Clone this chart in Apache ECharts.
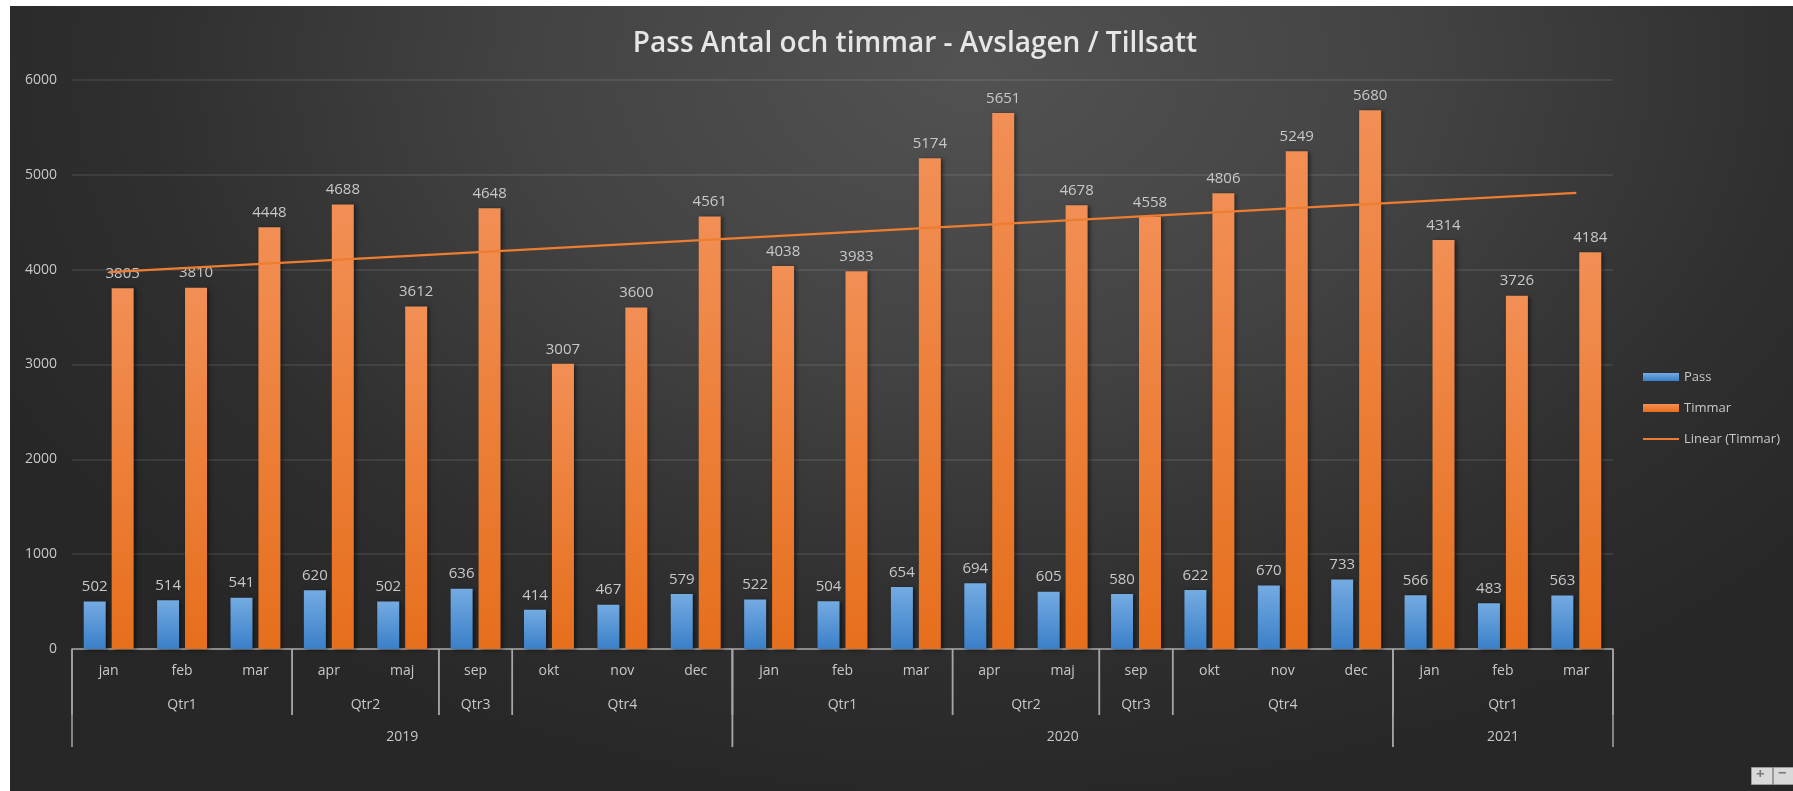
<!DOCTYPE html>
<html>
<head>
<meta charset="utf-8">
<script src="https://cdn.jsdelivr.net/npm/echarts@6/dist/echarts.min.js"></script>
<style>
html,body{margin:0;padding:0;background:#ffffff;width:1793px;height:791px;overflow:hidden;}
#chart{position:absolute;left:10px;top:6px;width:1783px;height:785px;
background:radial-gradient(ellipse 62% 95% at 54% 8%, #525252 0%, #434343 40%, #2f2f2f 75%, #272727 100%);}
</style>
</head>
<body>
<div id="chart"></div>
<script>
// ---- data ----
var months   = ['jan','feb','mar','apr','maj','sep','okt','nov','dec','jan','feb','mar','apr','maj','sep','okt','nov','dec','jan','feb','mar'];
var quarters = ['Qtr1','Qtr1','Qtr1','Qtr2','Qtr2','Qtr3','Qtr4','Qtr4','Qtr4','Qtr1','Qtr1','Qtr1','Qtr2','Qtr2','Qtr3','Qtr4','Qtr4','Qtr4','Qtr1','Qtr1','Qtr1'];
var years    = ['2019','2019','2019','2019','2019','2019','2019','2019','2019','2020','2020','2020','2020','2020','2020','2020','2020','2020','2021','2021','2021'];
var passValues   = [502,514,541,620,502,636,414,467,579,522,504,654,694,605,580,622,670,733,566,483,563];
var timmarValues = [3805,3810,4448,4688,3612,4648,3007,3600,4561,4038,3983,5174,5651,4678,4558,4806,5249,5680,4314,3726,4184];
var trendEnds    = [3975, 4810]; // Linear (Timmar) at first and last category
var yTicks = [0,1000,2000,3000,4000,5000,6000];

// ---- build helpers ----
function runs(keyFn){
  var out=[]; var start=0;
  for(var i=1;i<=months.length;i++){
    if(i===months.length || keyFn(i)!==keyFn(start)){ out.push([start,i-1]); start=i; }
  }
  return out;
}
var qtrGroups = runs(function(i){return years[i]+'|'+quarters[i];}).map(function(r){return {s:r[0],e:r[1],label:quarters[r[0]],level:1};});
var yearGroups = runs(function(i){return years[i];}).map(function(r){return {s:r[0],e:r[1],label:years[r[0]],level:2};});
var groups = qtrGroups.concat(yearGroups);

var trendData = months.map(function(_,i){ return i===0 ? trendEnds[0] : (i===months.length-1 ? trendEnds[1] : null); });

var FONT = '"Open Sans", "Noto Sans", sans-serif';
var LABEL = '#c8c8c8';
var LINEC = '#a6a6a6';

var chart = echarts.init(document.getElementById('chart'), null, {renderer:'canvas'});
chart.setOption({
  backgroundColor: 'transparent',
  textStyle: {fontFamily: FONT},
  animation: false,
  title: {
    text: 'Pass Antal och timmar - Avslagen / Tillsatt',
    left: 900, top: 19, textAlign: 'center',
    textStyle: {color:'#e6e6e6', fontSize: 28, fontWeight: 600, fontFamily: FONT}
  },
  legend: {
    orient: 'vertical', left: 1633, top: 364, itemWidth: 36, itemHeight: 8, itemGap: 17, padding: 0,
    textStyle: {color: LABEL, fontSize: 13, fontFamily: FONT, lineHeight: 14},
    data: [
      {name:'Pass', icon:'rect'},
      {name:'Timmar', icon:'rect'},
      {name:'Linear (Timmar)', icon:'path://M0,0L0.01,0M0,3.1H36V4.9H0ZM36,8L35.99,8'}
    ]
  },
  grid: {left: 62, right: 180, top: 74, bottom: 142, containLabel: false},
  xAxis: {
    type: 'category', data: months, boundaryGap: true,
    axisLine: {show: true, lineStyle: {color: LINEC, width: 1.5}},
    axisTick: {show: false},
    axisLabel: {color: LABEL, fontSize: 14, margin: 15, fontFamily: FONT, interval: 0},
    splitLine: {show: false}
  },
  yAxis: {
    type: 'value', min: yTicks[0], max: yTicks[yTicks.length-1], interval: 1000,
    axisLine: {show: false}, axisTick: {show: false},
    axisLabel: {color: LABEL, fontSize: 14, margin: 15, fontFamily: FONT, formatter: function(v){ return String(v); }},
    splitLine: {show: true, lineStyle: {color: 'rgba(255,255,255,0.11)', width: 1.5}}
  },
  series: [
    {
      name: 'Pass', type: 'bar', data: passValues, barWidth: 22, barGap: '27%',
      itemStyle: {
        color: new echarts.graphic.LinearGradient(0,0,0,1,[{offset:0,color:'#74abe2'},{offset:1,color:'#3a7fc8'}]),
        shadowColor: 'rgba(0,0,0,0.5)', shadowBlur: 4, shadowOffsetX: 2, shadowOffsetY: 1
      },
      label: {show: true, position: 'top', distance: 7, color: LABEL, fontSize: 15, fontFamily: FONT}
    },
    {
      name: 'Timmar', type: 'bar', data: timmarValues, barWidth: 22,
      itemStyle: {
        color: new echarts.graphic.LinearGradient(0,0,0,1,[{offset:0,color:'#f28f55'},{offset:1,color:'#e66f1c'}]),
        shadowColor: 'rgba(0,0,0,0.5)', shadowBlur: 4, shadowOffsetX: 2, shadowOffsetY: 1
      },
      label: {show: true, position: 'top', distance: 7, color: LABEL, fontSize: 15, fontFamily: FONT}
    },
    {
      name: 'Linear (Timmar)', type: 'line', data: trendData, connectNulls: true,
      symbol: 'none', z: 5,
      itemStyle: {color: '#ed7d31'},
      lineStyle: {color: '#ed7d31', width: 2.2}
    },
    {
      name: 'axisGroups', type: 'custom', silent: true, clip: false, z: 3,
      data: groups.map(function(g){ return [g.s, g.e, g.level]; }),
      encode: {x: [0,1]},
      renderItem: function(params, api){
        var g = groups[params.dataIndex];
        var band = api.size([1,0])[0];
        var p0 = api.coord([g.s, 0]);
        var p1 = api.coord([g.e, 0]);
        var x0 = p0[0] - band/2, x1 = p1[0] + band/2, y0 = p0[1];
        var textY = g.level === 1 ? y0 + 56 : y0 + 88;
        var lineEnd = g.level === 1 ? y0 + 66 : y0 + 98;
        return {
          type: 'group',
          children: [
            {type:'line', shape:{x1:x0,y1:y0,x2:x0,y2:lineEnd}, style:{stroke:LINEC, lineWidth:1.5}},
            {type:'line', shape:{x1:x1,y1:y0,x2:x1,y2:lineEnd}, style:{stroke:LINEC, lineWidth:1.5}},
            {type:'text', x:(x0+x1)/2, y:textY, style:{text:g.label, fill:LABEL, font:'14px '+FONT, textAlign:'center', textVerticalAlign:'middle'}}
          ]
        };
      }
    }
  ],
  graphic: [
    {type:'rect', left:1741, top:761, shape:{width:21, height:17}, style:{fill:'#d9d9d9', stroke:'#9a9a9a', lineWidth:1}},
    {type:'rect', left:1763, top:761, shape:{width:24, height:17}, style:{fill:'#d9d9d9', stroke:'#9a9a9a', lineWidth:1}},
    {type:'text', left:1746, top:761, style:{text:'+', fill:'#7a7a7a', font:'bold 15px '+FONT}},
    {type:'text', left:1768, top:760, style:{text:'\u2212', fill:'#7a7a7a', font:'bold 15px '+FONT}}
  ]
});
</script>
</body>
</html>
